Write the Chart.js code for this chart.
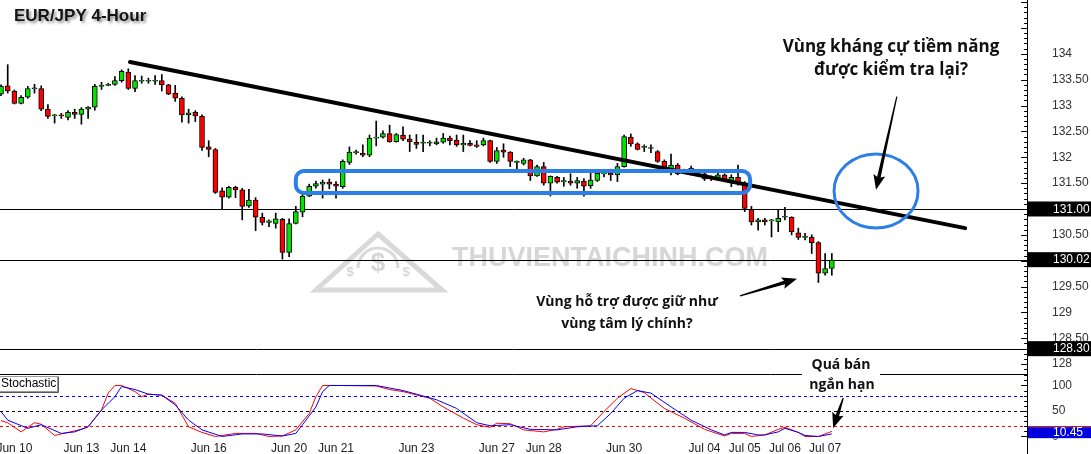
<!DOCTYPE html>
<html>
<head>
<meta charset="utf-8">
<script src="https://cdn.jsdelivr.net/npm/chart.js@4.4.1/dist/chart.umd.min.js"></script>
<style>
  html, body { margin: 0; padding: 0; background: #fff; }
  #wrap { position: relative; width: 1091px; height: 454px; }
</style>
</head>
<body>
<div id="wrap"><canvas id="chart" width="1091" height="454"></canvas></div>
<script>
// EUR/JPY 4-hour bars, one entry per bar
const opens = [133.22,133.38,133.28,133.04,133.16,133.32,133.33,132.93,132.80,132.81,132.77,132.87,132.83,132.93,132.97,133.37,133.39,133.41,133.48,133.64,
  133.33,133.47,133.47,133.47,133.48,133.40,133.24,133.14,132.82,132.87,132.79,132.20,132.15,131.35,131.23,131.42,131.37,131.06,131.17,130.84,
  130.74,130.72,130.80,130.16,130.72,130.94,131.25,131.44,131.48,131.52,131.48,131.43,131.90,132.09,132.08,132.04,132.37,132.39,132.46,132.30,
  132.43,132.35,132.29,132.27,132.27,132.26,132.29,132.37,132.33,132.24,132.27,132.24,132.24,132.32,131.92,132.14,132.10,131.90,131.88,131.95,
  131.64,131.82,131.50,131.61,131.53,131.54,131.50,131.54,131.45,131.55,131.68,131.69,131.66,131.82,132.39,132.26,132.19,132.17,132.11,131.92,
  131.77,131.85,131.74,131.75,131.68,131.68,131.59,131.61,131.66,131.55,131.61,131.50,130.99,130.75,130.79,130.77,130.75,130.84,130.84,130.54,
  130.45,130.45,130.35,129.76,129.85];
const highs = [133.40,133.79,133.30,133.19,133.37,133.41,133.38,133.02,132.83,132.85,132.90,132.93,132.96,132.98,133.41,133.45,133.43,133.56,133.69,133.71,
  133.58,133.57,133.53,133.58,133.60,133.41,133.39,133.17,132.93,132.90,132.82,132.32,132.17,131.41,131.44,131.44,131.40,131.38,131.22,130.92,
  130.79,130.92,130.82,130.81,131.05,131.34,131.48,131.54,131.56,131.58,131.53,131.95,132.20,132.14,132.24,132.43,132.70,132.51,132.62,132.46,
  132.59,132.43,132.44,132.43,132.32,132.37,132.46,132.41,132.43,132.43,132.32,132.32,132.37,132.33,132.19,132.26,132.11,131.93,131.98,131.96,
  131.85,131.90,131.64,131.63,131.61,131.68,131.61,131.59,131.69,131.72,131.75,131.77,131.88,132.43,132.45,132.28,132.24,132.24,132.13,131.95,
  132.06,131.88,131.77,131.83,131.72,131.69,131.64,131.69,131.68,131.66,131.85,131.53,131.05,130.82,130.82,130.80,130.99,131.03,130.85,130.63,
  130.53,130.50,130.37,130.14,130.14];
const lows = [133.19,133.24,133.03,133.03,133.14,133.24,132.90,132.75,132.66,132.75,132.72,132.75,132.64,132.75,132.91,133.31,133.38,133.39,133.45,133.31,
  133.27,133.43,133.43,133.41,133.28,133.21,133.08,132.68,132.66,132.69,132.13,132.01,131.30,131.00,131.21,131.22,130.79,131.03,130.58,130.69,
  130.66,130.63,130.03,130.08,130.71,130.85,131.24,131.40,131.21,131.39,131.21,131.40,131.86,132.06,132.01,132.01,132.22,132.37,132.29,132.29,
  132.32,132.11,132.17,132.11,132.22,132.24,132.27,132.24,132.21,132.11,132.22,132.19,132.22,131.90,131.88,132.00,131.82,131.75,131.85,131.55,
  131.63,131.46,131.25,131.50,131.44,131.46,131.40,131.25,131.40,131.53,131.62,131.55,131.53,131.81,132.21,132.14,132.11,132.09,131.90,131.74,
  131.66,131.66,131.70,131.66,131.64,131.55,131.55,131.57,131.53,131.43,131.46,130.95,130.69,130.59,130.69,130.46,130.56,130.79,130.50,130.41,
  130.40,130.14,129.58,129.72,129.72];
const closes = [133.37,133.28,133.04,133.16,133.33,133.34,132.93,132.79,132.81,132.80,132.87,132.83,132.93,132.97,133.37,133.39,133.40,133.48,133.66,133.33,
  133.48,133.47,133.47,133.48,133.40,133.22,133.14,132.82,132.86,132.80,132.19,132.15,131.32,131.23,131.42,131.37,131.05,131.17,130.84,130.74,
  130.77,130.81,130.16,130.72,130.95,131.25,131.44,131.49,131.52,131.48,131.44,131.92,132.10,132.09,132.04,132.37,132.38,132.46,132.30,132.44,
  132.35,132.30,132.25,132.27,132.27,132.30,132.37,132.32,132.24,132.27,132.23,132.21,132.32,131.92,132.13,132.10,131.92,131.90,131.95,131.64,
  131.82,131.50,131.63,131.52,131.53,131.50,131.55,131.44,131.56,131.69,131.69,131.66,131.82,132.40,132.26,132.15,132.19,132.17,131.92,131.77,
  131.85,131.68,131.74,131.79,131.68,131.58,131.59,131.66,131.55,131.61,131.50,131.01,130.75,130.79,130.75,130.77,130.82,130.84,130.56,130.45,
  130.45,130.35,129.76,129.85,130.01];

// stochastic %K (red) and %D (blue): [bar index, value]
const stochK = [[0,31],[1,27],[3,9],[5,27],[6,24],[8,2],[10,8],[12,14],[13,19],[15,52],[16,85],[17,100],[18,100],[20,88],[21,78],[22,83],[24,81],
  [26,65],[27,42],[28,19],[30,8],[32,0],[35,6],[38,6],[40,0],[42,1],[44,13],[46,45],[47,78],[48,100],[50,100],[56,99],[58,92],[60,88],[64,75],
  [66,58],[69,36],[71,23],[73,18],[74,26],[76,25],[78,13],[81,9],[83,14],[84,19],[88,21],[90,49],[92,75],[94,94],[96,86],[99,55],[102,36],
  [105,14],[108,1],[109,6],[111,6],[112,0],[114,3],[116,14],[117,18],[119,8],[120,0],[122,0],[124,10]];
const stochD = [[0,49],[1,32],[4,16],[6,23],[9,6],[11,9],[13,19],[15,52],[17,78],[18,98],[20,92],[22,83],[24,81],[26,62],[28,32],[30,13],
  [33,0],[36,5],[39,5],[42,1],[44,6],[45,23],[47,58],[48,88],[49,100],[56,100],[60,90],[62,83],[65,72],[68,55],[71,27],[73,21],[76,23],[79,14],
  [83,13],[86,19],[89,21],[91,45],[93,75],[95,90],[97,85],[100,58],[103,32],[106,13],[108,3],[109,8],[111,8],[113,3],[114,3],[116,9],[117,16],
  [119,8],[120,2],[122,0],[124,5]];

// axis labels
const dayLabels = ['Jun 10','Jun 13','Jun 14','Jun 16','Jun 20','Jun 21','Jun 23','Jun 27','Jun 28','Jun 30','Jul 04','Jul 05','Jul 06','Jul 07'];
const dayIdx = [2,12,19,31,43,50,62,74,81,93,105,111,117,123];
const priceTicks = [128,128.5,129,129.5,130,130.5,131,131.5,132,132.5,133,133.5,134];
const stochTicks = [0,50,100];

// marked levels
const levelPrices = [131.00, 130.02, 128.30];
const stochLevels = [80, 50, 20];
const stochLevelColors = ['#0000ff', '#000000', '#ff0000'];
const lastStoch = 10.45;

const bodies = opens.map((o, i) => ({x: i, y: [o, closes[i]]}));
const wicks = highs.map((h, i) => ({x: i, y: [lows[i], h]}));
const bodyColors = opens.map((o, i) => closes[i] >= o ? '#00e400' : '#ff0000');
const kPts = stochK.map(p => ({x: p[0], y: p[1]}));
const dPts = stochD.map(p => ({x: p[0], y: p[1]}));

const BLUE = '#2c7fe6';
const FONT = '"Liberation Sans", Arial, sans-serif';
Chart.defaults.font.family = FONT;

function arrow(ctx, x1, y1, x2, y2) {
    const a = Math.atan2(y2 - y1, x2 - x1);
    const len = Math.hypot(x2 - x1, y2 - y1);
    ctx.save();
    ctx.translate(x1, y1);
    ctx.rotate(a);
    ctx.beginPath();
    ctx.moveTo(0, -0.6);
    ctx.lineTo(len - 13, -1.8);
    ctx.lineTo(len - 15, -6);
    ctx.lineTo(len, 0);
    ctx.lineTo(len - 15, 6);
    ctx.lineTo(len - 13, 1.8);
    ctx.lineTo(0, 0.6);
    ctx.closePath();
    ctx.fillStyle = '#000';
    ctx.fill();
    ctx.restore();
}

const drawings = {
    id: 'drawings',
    beforeDatasetsDraw(chart) {
        const {ctx, scales: {x, y, y2}} = chart;
        ctx.save();
        // watermark
        ctx.fillStyle = '#d6d6d6';
        ctx.strokeStyle = '#d9d9d9';
        ctx.lineWidth = 5;
        ctx.beginPath();
        ctx.moveTo(378, 234);
        ctx.lineTo(442, 290);
        ctx.lineTo(316, 290);
        ctx.closePath();
        ctx.stroke();
        ctx.lineWidth = 3;
        ctx.beginPath();
        ctx.arc(378, 268, 20, Math.PI, 0);
        ctx.stroke();
        ctx.font = 'bold 26px ' + FONT;
        ctx.textAlign = 'center';
        ctx.textBaseline = 'middle';
        ctx.fillText('$', 378, 264);
        ctx.font = 'bold 13px ' + FONT;
        ctx.fillText('$', 350, 272);
        ctx.fillText('$', 406, 272);
        ctx.font = 'bold 27px ' + FONT;
        ctx.textAlign = 'left';
        ctx.fillText('THUVIENTAICHINH.COM', 452, 259);

        // horizontal price levels
        ctx.strokeStyle = '#000';
        ctx.lineWidth = 1;
        levelPrices.forEach(p => {
            const py = Math.round(y.getPixelForValue(p)) + 0.5;
            ctx.beginPath();
            ctx.moveTo(0, py);
            ctx.lineTo(x.right, py);
            ctx.stroke();
        });
        // stochastic levels
        ctx.setLineDash([3, 3]);
        stochLevels.forEach((v, i) => {
            const py = Math.round(y2.getPixelForValue(v)) + 0.5;
            ctx.strokeStyle = stochLevelColors[i];
            ctx.beginPath();
            ctx.moveTo(0, py);
            ctx.lineTo(x.right, py);
            ctx.stroke();
        });
        ctx.restore();
    },
    afterDatasetsDraw(chart) {
        const {ctx, scales: {x, y, y2}} = chart;
        const R = x.right;
        ctx.save();

        // trend line
        ctx.strokeStyle = '#000';
        ctx.lineWidth = 4;
        ctx.lineCap = 'round';
        ctx.beginPath();
        ctx.moveTo(x.getPixelForValue(19.25), y.getPixelForValue(133.84));
        ctx.lineTo(x.getPixelForValue(143.9), y.getPixelForValue(130.63));
        ctx.stroke();

        // support zone box
        ctx.strokeStyle = BLUE;
        ctx.lineWidth = 4;
        const zx0 = x.getPixelForValue(44), zx1 = x.getPixelForValue(111.8);
        const zy0 = y.getPixelForValue(131.735), zy1 = y.getPixelForValue(131.31);
        ctx.beginPath();
        ctx.roundRect(zx0, zy0, zx1 - zx0, zy1 - zy0, 8);
        ctx.stroke();

        // resistance ellipse
        ctx.lineWidth = 3;
        ctx.beginPath();
        ctx.ellipse(x.getPixelForValue(130.6), y.getPixelForValue(131.35), 42, 37, 0, 0, Math.PI * 2);
        ctx.stroke();

        // arrows
        arrow(ctx, x.getPixelForValue(133.7), y.getPixelForValue(133.17), x.getPixelForValue(130.6), y.getPixelForValue(131.37));
        arrow(ctx, x.getPixelForValue(110.3), y.getPixelForValue(129.32), x.getPixelForValue(118.8), y.getPixelForValue(129.65));

        // separator between panels
        ctx.strokeStyle = '#000';
        ctx.lineWidth = 1;
        ctx.beginPath();
        ctx.moveTo(0, y2.top + 0.5);
        ctx.lineTo(R, y2.top + 0.5);
        ctx.stroke();

        // "Quá bán" note with white backing
        ctx.fillStyle = '#fff';
        ctx.fillRect(802, 353, 78, 43);
        arrow(ctx, x.getPixelForValue(125.7), y2.getPixelForValue(75.5), x.getPixelForValue(124.2), y2.getPixelForValue(16.7));

        ctx.fillStyle = '#111';
        ctx.textAlign = 'center';
        ctx.textBaseline = 'middle';
        ctx.font = 'bold 14px "Open Sans", sans-serif';
        ctx.fillText('Quá bán', 841, 365);
        ctx.fillText('ngắn hạn', 842, 385);
        ctx.fillText('Vùng hỗ trợ được giữ như', 627, 302);
        ctx.fillText('vùng tâm lý chính?', 627, 324);
        ctx.font = 'bold 17px "Open Sans", sans-serif';
        ctx.fillText('Vùng kháng cự tiềm năng', 891, 47);
        ctx.fillText('được kiểm tra lại?', 891, 70);

        // axis line and tick marks
        const ax = R + 0.5;
        ctx.strokeStyle = '#000';
        ctx.beginPath();
        ctx.moveTo(ax, 0);
        ctx.lineTo(ax, chart.height);
        for (let k = 1279; k <= 1350; k++) {
            const py = Math.round(y.getPixelForValue(k / 10)) + 0.5;
            if (py < y.top || py > y.bottom) continue;
            const len = k % 5 === 0 ? 6 : 3;
            ctx.moveTo(ax - len, py);
            ctx.lineTo(ax, py);
        }
        for (let v = 0; v <= 120; v += 10) {
            const py = Math.round(y2.getPixelForValue(v)) + 0.5;
            const len = v % 50 === 0 ? 6 : 3;
            ctx.moveTo(ax - len, py);
            ctx.lineTo(ax, py);
        }
        ctx.stroke();

        // price tags
        ctx.textAlign = 'left';
        ctx.font = '12px ' + FONT;
        levelPrices.forEach(p => {
            const py = y.getPixelForValue(p);
            ctx.fillStyle = '#000';
            ctx.fillRect(R + 1, py - 7.5, chart.width - R, 15);
            ctx.fillStyle = '#fff';
            ctx.fillText(p.toFixed(2), R + 26, py + 0.5);
        });
        const sy = y2.getPixelForValue(lastStoch);
        ctx.fillStyle = '#0000e0';
        ctx.fillRect(R + 1, sy - 4, chart.width - R, 11);
        ctx.fillStyle = '#a00000';
        ctx.fillRect(R + 1, sy - 5, chart.width - R, 1);
        ctx.fillStyle = '#fff';
        ctx.fillText(lastStoch.toFixed(2), R + 26, sy + 1.5);

        // Stochastic label
        ctx.fillStyle = '#fff';
        ctx.fillRect(0, y2.top + 2, 58, 15);
        ctx.strokeStyle = '#999';
        ctx.strokeRect(-0.5, y2.top + 2.5, 58, 15);
        ctx.strokeStyle = '#555';
        ctx.beginPath();
        ctx.moveTo(58.5, y2.top + 3);
        ctx.lineTo(58.5, y2.top + 18.5);
        ctx.lineTo(0, y2.top + 18.5);
        ctx.stroke();
        ctx.fillStyle = '#000';
        ctx.fillText('Stochastic', 1, y2.top + 10);

        // title
        ctx.font = 'bold 17px ' + FONT;
        ctx.shadowColor = 'rgba(0,0,0,0.45)';
        ctx.shadowBlur = 3;
        ctx.shadowOffsetX = 2;
        ctx.shadowOffsetY = 2;
        ctx.fillStyle = '#141414';
        ctx.fillText('EUR/JPY 4-Hour', 14, 16);
        ctx.restore();
    }
};

new Chart(document.getElementById('chart'), {
    type: 'bar',
    data: {
        datasets: [
            {label: 'body', data: bodies, backgroundColor: bodyColors, borderColor: '#000', borderWidth: 1,
             borderSkipped: false, barThickness: 5, minBarLength: 1, grouped: false, order: 0, yAxisID: 'y'},
            {label: 'wick', data: wicks, backgroundColor: '#000', borderWidth: 0,
             barThickness: 1, grouped: false, order: 1, yAxisID: 'y'},
            {type: 'line', label: '%D', data: dPts, borderColor: '#0000ff', borderWidth: 1,
             pointRadius: 0, tension: 0, order: 2, yAxisID: 'y2'},
            {type: 'line', label: '%K', data: kPts, borderColor: '#ff0000', borderWidth: 1,
             pointRadius: 0, tension: 0, order: 3, yAxisID: 'y2'}
        ]
    },
    options: {
        responsive: false,
        animation: false,
        layout: {padding: 0},
        plugins: {legend: {display: false}, tooltip: {enabled: false}},
        scales: {
            x: {
                type: 'linear', min: -0.15, max: 153.13, offset: false,
                grid: {display: false, drawTicks: false}, border: {display: false},
                ticks: {autoSkip: false, maxRotation: 0, padding: 1, color: '#222', font: {size: 12},
                        callback: v => dayLabels[dayIdx.indexOf(v)]},
                afterBuildTicks: s => { s.ticks = dayIdx.map(v => ({value: v})); },
                afterFit: s => { s.height = 14; s.paddingLeft = 0; s.paddingRight = 0; }
            },
            y: {
                type: 'linear', position: 'right', stack: 'panes', stackWeight: 374,
                min: 127.81, max: 135.04, beginAtZero: false,
                grid: {display: false, drawTicks: false}, border: {display: false},
                ticks: {autoSkip: false, padding: 25, color: '#333', font: {size: 12},
                        callback: v => Number.isInteger(v) ? String(v) : v.toFixed(2)},
                afterBuildTicks: s => { s.ticks = priceTicks.map(v => ({value: v})); },
                afterFit: s => { s.width = 64; s.paddingTop = 0; s.paddingBottom = 0; }
            },
            y2: {
                type: 'linear', position: 'right', stack: 'panes', stackWeight: 66,
                min: -6.9, max: 122.5,
                grid: {display: false, drawTicks: false}, border: {display: false},
                ticks: {autoSkip: false, padding: 25, color: '#333', font: {size: 12}},
                afterBuildTicks: s => { s.ticks = stochTicks.map(v => ({value: v})); },
                afterFit: s => { s.width = 64; s.paddingTop = 0; s.paddingBottom = 0; }
            }
        }
    },
    plugins: [drawings]
});
</script>
</body>
</html>
